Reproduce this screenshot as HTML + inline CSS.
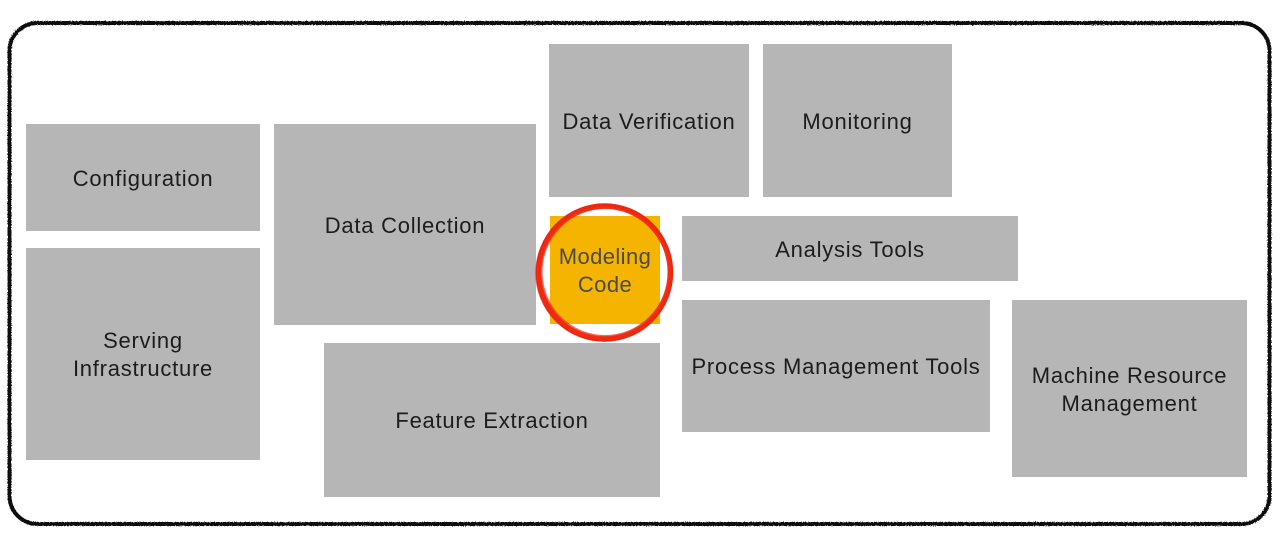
<!DOCTYPE html>
<html>
<head>
<meta charset="utf-8">
<style>
  html,body{margin:0;padding:0;background:#fff;}
  body{width:1280px;height:538px;position:relative;overflow:hidden;font-family:"Liberation Sans",Arial,sans-serif;}
  .b{position:absolute;background:#b6b6b6;display:flex;align-items:center;justify-content:center;text-align:center;color:#1c1c1c;font-size:22px;letter-spacing:0.75px;line-height:28px;box-sizing:border-box;padding-top:2px;}
  svg{position:absolute;left:0;top:0;}
</style>
</head>
<body>
<svg width="1280" height="538" viewBox="0 0 1280 538">
  <defs>
    <filter id="rough" x="-5%" y="-5%" width="110%" height="110%">
      <feTurbulence type="fractalNoise" baseFrequency="0.9" numOctaves="2" seed="3" result="n"/>
      <feDisplacementMap in="SourceGraphic" in2="n" scale="2.2"/>
    </filter>
  </defs>
  <rect x="9.5" y="23" width="1260" height="501" rx="28" ry="28" fill="none" stroke="#111" stroke-width="4" filter="url(#rough)"/>
</svg>

<div class="b" style="left:26px;top:124px;width:234px;height:107px;">Configuration</div>
<div class="b" style="left:26px;top:248px;width:234px;height:212px;">Serving<br>Infrastructure</div>
<div class="b" style="left:274px;top:124px;width:262px;height:201px;">Data Collection</div>
<div class="b" style="left:549px;top:44px;width:200px;height:153px;">Data Verification</div>
<div class="b" style="left:763px;top:44px;width:189px;height:153px;">Monitoring</div>
<div class="b" style="left:550px;top:216px;width:110px;height:108px;background:#f5b400;color:#4a4a4a;letter-spacing:0.4px;">Modeling<br>Code</div>
<div class="b" style="left:682px;top:216px;width:336px;height:65px;">Analysis Tools</div>
<div class="b" style="left:682px;top:300px;width:308px;height:132px;">Process Management Tools</div>
<div class="b" style="left:1012px;top:300px;width:235px;height:177px;">Machine Resource<br>Management</div>
<div class="b" style="left:324px;top:343px;width:336px;height:154px;">Feature Extraction</div>

<svg width="1280" height="538" viewBox="0 0 1280 538">
  <g fill="none" stroke-linecap="round">
    <ellipse cx="604.5" cy="272.5" rx="66" ry="66.5" stroke="#ee2a12" stroke-width="5.5"/>
    <ellipse cx="605" cy="272" rx="63.5" ry="64" stroke="#f2361a" stroke-width="2" opacity="0.75"/>
    <ellipse cx="604" cy="273" rx="68" ry="68" stroke="#ea2410" stroke-width="1.5" opacity="0.6"/>
  </g>
</svg>
</body>
</html>
